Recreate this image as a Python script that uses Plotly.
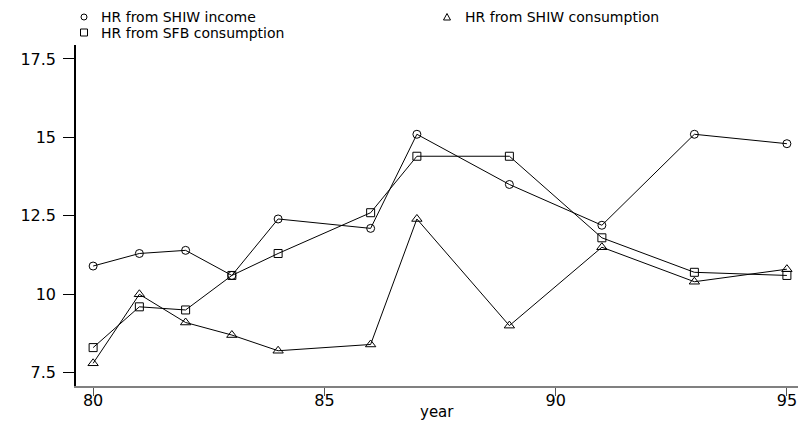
import plotly.graph_objects as go

years = [80, 81, 82, 83, 84, 86, 87, 89, 91, 93, 95]
hr_shiw_income = [10.9, 11.3, 11.4, 10.6, 12.4, 12.1, 15.1, 13.5, 12.2, 15.1, 14.8]
hr_shiw_consumption = [7.8, 10.0, 9.1, 8.7, 8.2, 8.4, 12.4, 9.0, 11.5, 10.4, 10.8]
hr_sfb_consumption = [8.3, 9.6, 9.5, 10.6, 11.3, 12.6, 14.4, 14.4, 11.8, 10.7, 10.6]

series_names = ["HR from SHIW income", "HR from SHIW consumption", "HR from SFB consumption"]
x_ticks = [80, 85, 90, 95]
x_title = "year"
y_ticks = [7.5, 10, 12.5, 15, 17.5]
y_tick_labels = ["7.5", "10", "12.5", "15", "17.5"]

# page body has an 8px margin: figure is sized to fit inside the window
W, H = 790, 416
ML, MR, MT, MB = 68, 0, 37, 38
PW, PH = W - ML - MR, H - MT - MB
FONT = "DejaVu Sans"

def px(X):
    return (X - ML) / PW

def py(Y):
    return (H - MB - Y) / PH

fig = go.Figure()
specs = [
    (hr_shiw_income, "circle-open", 8),
    (hr_shiw_consumption, "triangle-up-open", 9),
    (hr_sfb_consumption, "square-open", 8),
]
for name, (vals, sym, sz) in zip(series_names, specs):
    fig.add_trace(go.Scatter(
        x=years, y=vals, name=name, mode="lines+markers",
        line=dict(color="black", width=1),
        marker=dict(symbol=sym, size=sz, color="black", line=dict(color="black", width=1)),
        showlegend=False,
    ))

# manual legend
legend_items = [
    (series_names[0], "circle", 76, 91, 9),
    (series_names[1], "triangle", 439, 455, 9),
    (series_names[2], "square", 76, 91, 24.5),
]
shapes = []
annotations = []
for name, kind, mx, tx, ty in legend_items:
    common = dict(xref="paper", yref="paper", xsizemode="pixel", ysizemode="pixel",
                  xanchor=px(mx), yanchor=py(ty), line=dict(color="black", width=1))
    if kind == "circle":
        shapes.append(dict(type="circle", x0=-3, x1=3, y0=-3, y1=3, **common))
    elif kind == "square":
        shapes.append(dict(type="rect", x0=-3.5, x1=3.5, y0=-3.5, y1=3.5, **common))
    else:
        shapes.append(dict(type="path", path="M -3.5 -3 L 3.5 -3 L 0 3.5 Z", **common))
    annotations.append(dict(text=name, xref="paper", yref="paper", x=px(tx), y=py(ty),
                            xanchor="left", yanchor="middle", showarrow=False,
                            font=dict(family=FONT, size=14, color="black")))

# x axis title placed below the tick labels
annotations.append(dict(text=x_title, xref="paper", yref="paper", x=0.5, y=py(404),
                        xanchor="center", yanchor="middle", showarrow=False,
                        font=dict(family=FONT, size=15, color="black")))

fig.update_layout(
    width=W, height=H,
    margin=dict(l=ML, r=MR, t=MT, b=MB),
    paper_bgcolor="white", plot_bgcolor="white",
    font=dict(family=FONT, size=16, color="black"),
    shapes=shapes, annotations=annotations,
    xaxis=dict(range=[79.63, 95.24], tickvals=x_ticks, ticks="outside", ticklen=8,
               tickcolor="#555555", tickwidth=1, showline=True, linecolor="#808080",
               linewidth=2, showgrid=False, zeroline=False, automargin=False,
               ticklabelstandoff=-9),
    yaxis=dict(range=[7.076, 17.946], tickvals=y_ticks, ticktext=y_tick_labels,
               ticks="outside", ticklen=11, tickcolor="black", tickwidth=1,
               showline=True, linecolor="black", linewidth=1.5, showgrid=False,
               zeroline=False, ticklabelstandoff=4, automargin=False),
)

fig.write_html("out.html")
